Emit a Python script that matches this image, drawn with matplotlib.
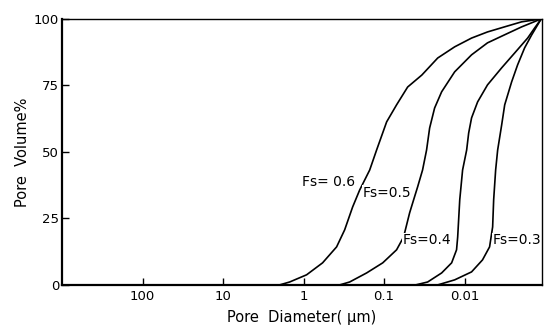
import matplotlib
matplotlib.use("Agg")
import matplotlib.pyplot as plt

# pore diameter (um) vs cumulative pore volume (%)
d_06 = [1.99, 1.49, 0.918, 0.581, 0.389, 0.309, 0.246, 0.201, 0.151, 0.124,
        0.093, 0.070, 0.051, 0.034, 0.0216, 0.0133, 0.0082, 0.0052, 0.0032, 0.00196, 0.00112]
v_06 = [0, 1.1, 3.8, 8.3, 14.3, 20.7, 29.3, 35.7, 43.2, 50.7,
        61.3, 67.7, 74.4, 78.9, 85.3, 89.5, 92.8, 95.1, 97.0, 98.9, 100]

d_05 = [0.357, 0.268, 0.165, 0.104, 0.070, 0.0573, 0.0482, 0.0430, 0.0384, 0.0333,
        0.0297, 0.0272, 0.0236, 0.0193, 0.0133, 0.0082, 0.0052, 0.0032, 0.00196, 0.00112]
v_05 = [0, 1.1, 4.5, 8.3, 13.2, 18.0, 27.1, 32.0, 36.8, 43.2,
        50.7, 59.0, 66.5, 72.6, 80.1, 86.5, 91.0, 94.0, 97.0, 100]

d_04 = [0.0406, 0.0288, 0.0193, 0.0145, 0.0126, 0.0122, 0.0115, 0.0106, 0.00944,
        0.00891, 0.0082, 0.0069, 0.0052, 0.00347, 0.00239, 0.00165, 0.00135, 0.00112]
v_04 = [0, 1.1, 4.5, 8.3, 13.2, 18.0, 32.0, 43.2, 50.7,
        57.1, 62.8, 68.8, 75.2, 81.6, 87.2, 92.8, 96.6, 100]

d_03 = [0.0216, 0.0133, 0.0082, 0.0060, 0.0049, 0.00449, 0.00436, 0.00412, 0.00389,
        0.00347, 0.00318, 0.00261, 0.00220, 0.00180, 0.00147, 0.00112]
v_03 = [0, 1.9, 4.9, 9.4, 14.3, 21.8, 32.0, 43.2, 50.7,
        60.1, 67.7, 76.3, 82.7, 89.1, 94.0, 100]

labels = ["Fs= 0.6", "Fs=0.5", "Fs=0.4", "Fs=0.3"]
label_pos = [(0.49, 38.7), (0.093, 34.6), (0.0297, 16.9), (0.00226, 16.9)]

x_ticks = [100, 10, 1, 0.1, 0.01]
x_ticklabels = ["100", "10", "1", "0.1", "0.01"]
y_ticks = [0, 25, 50, 75, 100]

fig = plt.figure(figsize=(5.44, 3.26), dpi=100)
ax = fig.add_axes([0.114, 0.126, 0.882, 0.816])

for d, v in [(d_06, v_06), (d_05, v_05), (d_04, v_04), (d_03, v_03)]:
    ax.plot(d, v, color="black", lw=1.2)

for text, (x, y) in zip(labels, label_pos):
    ax.text(x, y, text, fontsize=10, ha="center", va="center",
            bbox=dict(facecolor="white", edgecolor="none", pad=0.3))

ax.set_xscale("log")
ax.set_xlim(1000, 0.0011)
ax.set_ylim(0, 100)
ax.set_xticks(x_ticks)
ax.set_xticklabels(x_ticklabels)
ax.minorticks_off()
ax.set_yticks(y_ticks)
ax.tick_params(direction="in", length=5, labelsize=9.5, width=1)
ax.tick_params(axis="y", pad=2)

for side in ["left", "bottom"]:
    ax.spines[side].set_linewidth(1.6)
for side in ["top", "right"]:
    ax.spines[side].set_linewidth(1.0)

ax.set_xlabel("Pore  Diameter( \u03bcm)", fontsize=10.5, labelpad=5)
ax.set_ylabel("Pore  Volume%", fontsize=10.5, labelpad=3)

fig.savefig("out.png", dpi=100)
